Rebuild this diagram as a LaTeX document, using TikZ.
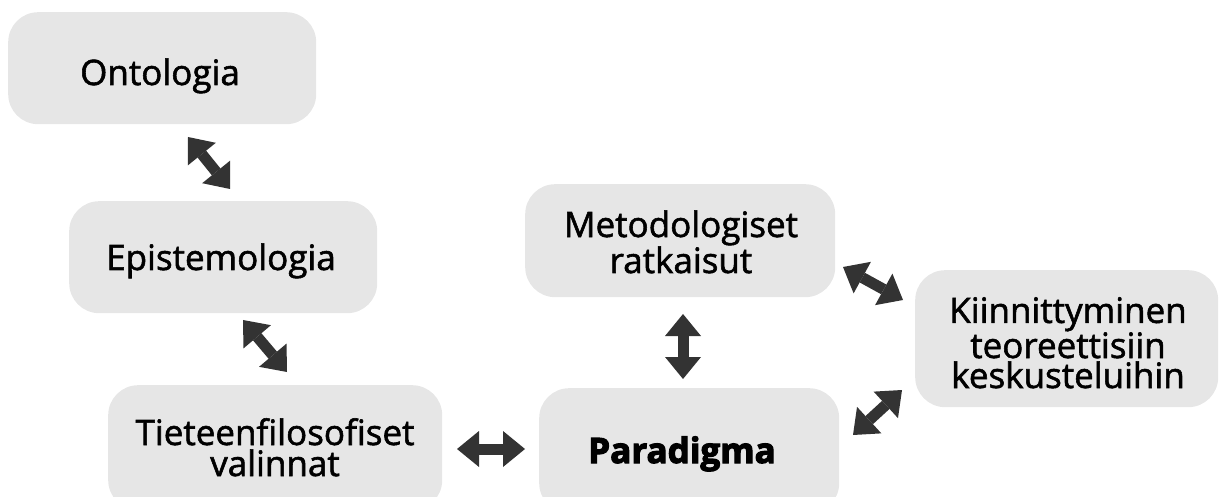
\documentclass[tikz,border=0pt]{standalone}
\usepackage{fontspec}
\setmainfont{Open Sans}[UprightFeatures={FakeBold=1.6}, BoldFeatures={FakeBold=3.2}]
\usetikzlibrary{arrows.meta}
\definecolor{boxfill}{HTML}{E6E6E6}
\definecolor{arrowfill}{HTML}{333333}
\begin{document}
\begin{tikzpicture}[x=1pt,y=-1pt,
  box/.style={fill=boxfill, draw=none, rounded corners=30pt, inner sep=0pt,
              anchor=north west},
  % anchor=base sits on the baseline of the last line
  txt/.style={font=\fontsize{35}{31}\selectfont, align=center, anchor=base,
              inner sep=0pt, text=black},
  biarrow/.style={draw=arrowfill, fill=arrowfill, line width=11pt,
    {Triangle[width=36pt 0 0,length=22pt 0 0,line width=0pt]}-{Triangle[width=36pt 0 0,length=22pt 0 0,line width=0pt]}}]
\useasboundingbox (0,0) rectangle (1219,497);

% rounded boxes
\node[box, minimum width=308pt, minimum height=112pt] (onto) at (8,12) {};
\node[box, minimum width=308pt, minimum height=112pt] (epi)  at (69,201) {};
\node[box, minimum width=334pt, minimum height=125pt] (tiet) at (108,385) {};
\node[box, minimum width=310pt, minimum height=113pt] (meto) at (525,184) {};
\node[box, minimum width=300pt, minimum height=125pt] (para) at (539,388) {};
\node[box, minimum width=303pt, minimum height=137pt] (kiin) at (915,270) {};

% labels
\node[txt] (ontoL) at (160,85)  {Ontologia};
\node[txt] (epiL)  at (221,270) {Epistemologia};
\node[txt] (tietL) at (275,476) {Tieteenfilosofiset\\valinnat};
\node[txt] (metoL) at (681,273) {Metodologiset\\ratkaisut};
\node[txt, font=\fontsize{35}{31}\selectfont\bfseries] (paraL) at (682,463) {Paradigma};
\node[txt, font=\fontsize{35}{30}\selectfont] (kiinL) at (1068,388) {Kiinnittyminen\\teoreettisiin\\keskusteluihin};

% arrow end points
\coordinate (a1s) at (188,137); \coordinate (a1e) at (230,189);
\coordinate (a2s) at (243,320); \coordinate (a2e) at (287,372);
\coordinate (a3s) at (457,449); \coordinate (a3e) at (525,449);
\coordinate (a4s) at (683,314); \coordinate (a4e) at (683,379);
\coordinate (a5s) at (843,267); \coordinate (a5e) at (903,300);
\coordinate (a6s) at (853,435); \coordinate (a6e) at (902,390);

% two-headed block arrows
\draw[biarrow] (a1s) -- (a1e);
\draw[biarrow] (a2s) -- (a2e);
\draw[biarrow] (a3s) -- (a3e);
\draw[biarrow] (a4s) -- (a4e);
\draw[biarrow] (a5s) -- (a5e);
\draw[biarrow] (a6s) -- (a6e);
\end{tikzpicture}
\end{document}
